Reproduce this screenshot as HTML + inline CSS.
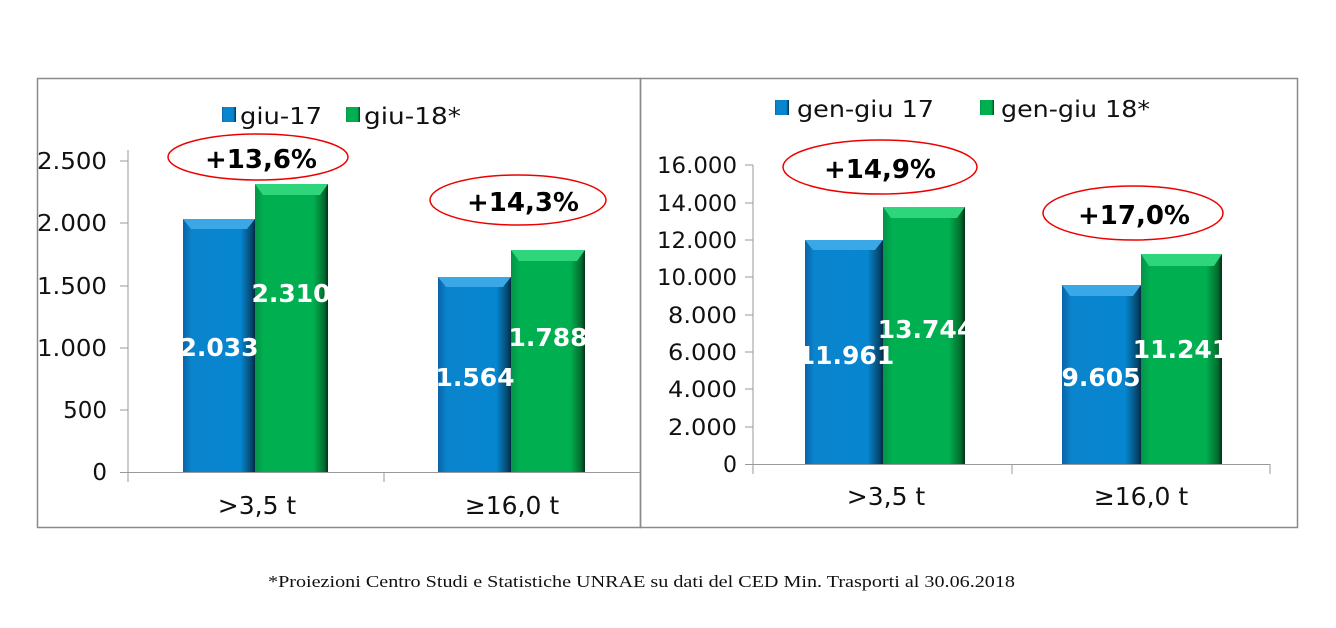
<!DOCTYPE html>
<html><head><meta charset="utf-8"><style>
html,body{margin:0;padding:0;background:#fff;}
svg{display:block;}
text{font-family:"DejaVu Sans","Liberation Sans",sans-serif;}
</style></head><body>
<svg width="1336" height="628" viewBox="0 0 1336 628" xmlns="http://www.w3.org/2000/svg">
<defs>
<linearGradient id="bh" x1="0" x2="1" y1="0" y2="0">
<stop offset="0" stop-color="#0a63a8"/><stop offset="0.12" stop-color="#0a84cc"/><stop offset="0.8" stop-color="#0686d0"/><stop offset="0.95" stop-color="#05486f"/><stop offset="1" stop-color="#032a44"/></linearGradient>
<linearGradient id="gh" x1="0" x2="1" y1="0" y2="0">
<stop offset="0" stop-color="#05934a"/><stop offset="0.12" stop-color="#00b050"/><stop offset="0.8" stop-color="#00b050"/><stop offset="0.95" stop-color="#036b2e"/><stop offset="1" stop-color="#01301a"/></linearGradient>
</defs>
<rect x="0" y="0" width="1336" height="628" fill="#fff"/>
<rect x="37.5" y="78.5" width="603" height="449" fill="none" stroke="#8a8a8a" stroke-width="1.5"/>
<rect x="640.5" y="78.5" width="657" height="449" fill="none" stroke="#8a8a8a" stroke-width="1.5"/>

<!-- LEFT CHART -->
<g stroke="#9a9a9a" stroke-width="1">
<line x1="128" y1="150" x2="128" y2="482"/>
<line x1="120" y1="472.5" x2="640" y2="472.5"/>
<line x1="384" y1="472" x2="384" y2="482"/>
<line x1="120" y1="161" x2="128" y2="161"/><line x1="120" y1="223" x2="128" y2="223"/>
<line x1="120" y1="286" x2="128" y2="286"/><line x1="120" y1="348" x2="128" y2="348"/>
<line x1="120" y1="410" x2="128" y2="410"/>
</g>
<g font-size="23" fill="#111" text-anchor="end">
<text x="107" y="169" textLength="70" lengthAdjust="spacingAndGlyphs">2.500</text><text x="107" y="231" textLength="70" lengthAdjust="spacingAndGlyphs">2.000</text><text x="107" y="294" textLength="70" lengthAdjust="spacingAndGlyphs">1.500</text>
<text x="107" y="356" textLength="70" lengthAdjust="spacingAndGlyphs">1.000</text><text x="107" y="418">500</text><text x="107" y="480">0</text>
</g>
<g font-size="25" fill="#111" text-anchor="middle">
<text x="257" y="514">&gt;3,5 t</text><text x="512" y="514">≥16,0 t</text>
</g>
<g>
<rect x="183" y="219" width="72" height="253" fill="url(#bh)"/><polygon points="183,219 255,219 247,229 191,229" fill="#3aa7e6"/>
<rect x="255" y="184" width="73" height="288" fill="url(#gh)"/><polygon points="255,184 328,184 320,195 263,195" fill="#2fd57a"/>
<rect x="438" y="277" width="73" height="195" fill="url(#bh)"/><polygon points="438,277 511,277 503,287 446,287" fill="#3aa7e6"/>
<rect x="511" y="250" width="74" height="222" fill="url(#gh)"/><polygon points="511,250 585,250 577,261 519,261" fill="#2fd57a"/>
</g>
<g font-size="25" font-weight="bold" fill="#fff" text-anchor="middle">
<text x="219" y="356">2.033</text><text x="291" y="302">2.310</text>
<text x="475" y="386">1.564</text><text x="548" y="346">1.788</text>
</g>
<rect x="222" y="107" width="14" height="15" fill="url(#bh)"/>
<rect x="346" y="107" width="14" height="15" fill="url(#gh)"/>
<g font-size="23" fill="#111"><text x="240" y="124" textLength="82" lengthAdjust="spacingAndGlyphs">giu-17</text><text x="364" y="124" textLength="97" lengthAdjust="spacingAndGlyphs">giu-18*</text></g>
<ellipse cx="258" cy="157" rx="90" ry="23" fill="none" stroke="#e00" stroke-width="1.5"/>
<ellipse cx="518" cy="200" rx="88" ry="25" fill="none" stroke="#e00" stroke-width="1.5"/>
<g font-size="26" font-weight="bold" fill="#000" text-anchor="middle">
<text x="261" y="168">+13,6%</text><text x="523" y="211">+14,3%</text>
</g>

<!-- RIGHT CHART -->
<g stroke="#9a9a9a" stroke-width="1">
<line x1="753" y1="165" x2="753" y2="474"/>
<line x1="745" y1="464.5" x2="1270" y2="464.5"/>
<line x1="1012" y1="464" x2="1012" y2="474"/><line x1="1270" y1="464" x2="1270" y2="474"/>
<line x1="745" y1="165" x2="753" y2="165"/><line x1="745" y1="203" x2="753" y2="203"/>
<line x1="745" y1="240" x2="753" y2="240"/><line x1="745" y1="277" x2="753" y2="277"/>
<line x1="745" y1="315" x2="753" y2="315"/><line x1="745" y1="352" x2="753" y2="352"/>
<line x1="745" y1="389" x2="753" y2="389"/><line x1="745" y1="427" x2="753" y2="427"/>
</g>
<g font-size="22" fill="#111" text-anchor="end">
<text x="737" y="173" textLength="80" lengthAdjust="spacingAndGlyphs">16.000</text><text x="737" y="211" textLength="80" lengthAdjust="spacingAndGlyphs">14.000</text><text x="737" y="248" textLength="80" lengthAdjust="spacingAndGlyphs">12.000</text>
<text x="737" y="285" textLength="80" lengthAdjust="spacingAndGlyphs">10.000</text><text x="737" y="323" textLength="69" lengthAdjust="spacingAndGlyphs">8.000</text><text x="737" y="360" textLength="69" lengthAdjust="spacingAndGlyphs">6.000</text>
<text x="737" y="397" textLength="69" lengthAdjust="spacingAndGlyphs">4.000</text><text x="737" y="435" textLength="69" lengthAdjust="spacingAndGlyphs">2.000</text><text x="737" y="472">0</text>
</g>
<g font-size="25" fill="#111" text-anchor="middle">
<text x="886" y="505">&gt;3,5 t</text><text x="1141" y="505">≥16,0 t</text>
</g>
<g>
<rect x="805" y="240" width="78" height="224" fill="url(#bh)"/><polygon points="805,240 883,240 875,250 813,250" fill="#3aa7e6"/>
<rect x="883" y="207" width="82" height="257" fill="url(#gh)"/><polygon points="883,207 965,207 957,218 891,218" fill="#2fd57a"/>
<rect x="1062" y="285" width="79" height="179" fill="url(#bh)"/><polygon points="1062,285 1141,285 1133,296 1070,296" fill="#3aa7e6"/>
<rect x="1141" y="254" width="81" height="210" fill="url(#gh)"/><polygon points="1141,254 1222,254 1214,266 1149,266" fill="#2fd57a"/>
</g>
<g font-size="25" font-weight="bold" fill="#fff" text-anchor="middle">
<text x="846" y="364">11.961</text><text x="926" y="338">13.744</text>
<text x="1101" y="386">9.605</text><text x="1181" y="358">11.241</text>
</g>
<rect x="775" y="100" width="14" height="15" fill="url(#bh)"/>
<rect x="980" y="100" width="14" height="15" fill="url(#gh)"/>
<g font-size="23" fill="#111"><text x="797" y="117" textLength="137" lengthAdjust="spacingAndGlyphs">gen-giu 17</text><text x="1001" y="117" textLength="149" lengthAdjust="spacingAndGlyphs">gen-giu 18*</text></g>
<ellipse cx="880" cy="167" rx="97" ry="27" fill="none" stroke="#e00" stroke-width="1.5"/>
<ellipse cx="1133" cy="213" rx="90" ry="27" fill="none" stroke="#e00" stroke-width="1.5"/>
<g font-size="26" font-weight="bold" fill="#000" text-anchor="middle">
<text x="880" y="178">+14,9%</text><text x="1134" y="224">+17,0%</text>
</g>

<text x="268" y="587" font-size="17" fill="#111" textLength="747" lengthAdjust="spacingAndGlyphs" style="font-family:'Liberation Serif',serif">*Proiezioni Centro Studi e Statistiche UNRAE su dati del CED Min. Trasporti al 30.06.2018</text>
</svg>
</body></html>
